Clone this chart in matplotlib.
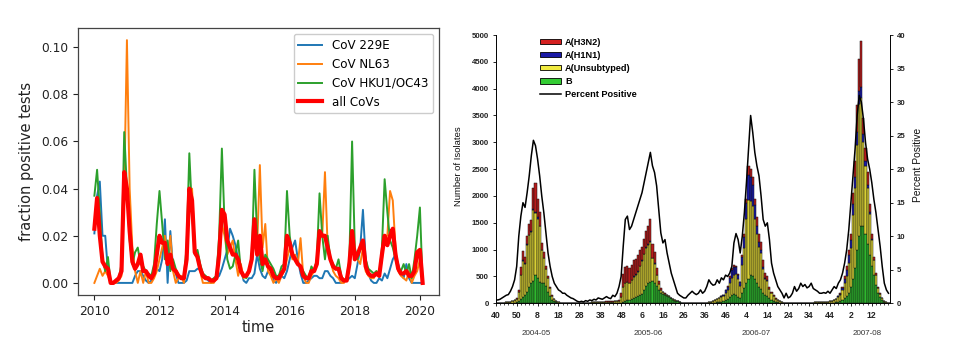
import matplotlib
matplotlib.use('Agg')
import matplotlib.pyplot as plt
import numpy as np
from matplotlib.patches import Patch
from matplotlib.lines import Line2D
from matplotlib.font_manager import FontProperties
import matplotlib.transforms as mtransforms

# ---------------- Left panel data (monthly, Jan 2010 - Feb 2020) ----------------
cov229e = [
    0.021, 0.037, 0.043, 0.020, 0.020, 0.005, 0.000, 0.000, 0.000, 0.000, 0.000, 0.000,
    0.000, 0.000, 0.000, 0.003, 0.005, 0.005, 0.003, 0.001, 0.000, 0.001, 0.003, 0.006,
    0.005, 0.010, 0.027, 0.000, 0.022, 0.006, 0.004, 0.000, 0.000, 0.000, 0.001, 0.005,
    0.005, 0.005, 0.006, 0.006, 0.003, 0.002, 0.001, 0.000, 0.001, 0.002, 0.003, 0.006,
    0.010, 0.014, 0.023, 0.020, 0.016, 0.010, 0.006, 0.001, 0.000, 0.002, 0.002, 0.004,
    0.012, 0.006, 0.003, 0.002, 0.005, 0.006, 0.001, 0.000, 0.002, 0.003, 0.002, 0.005,
    0.010, 0.015, 0.018, 0.010, 0.004, 0.000, 0.000, 0.001, 0.002, 0.003, 0.003, 0.002,
    0.002, 0.005, 0.005, 0.003, 0.002, 0.000, 0.000, 0.000, 0.001, 0.001, 0.002, 0.003,
    0.002, 0.008, 0.015, 0.031, 0.010, 0.004, 0.001, 0.000, 0.000, 0.002, 0.001, 0.004,
    0.002, 0.006, 0.010, 0.012, 0.008, 0.004, 0.002, 0.008, 0.002, 0.000, 0.000, 0.000,
    0.000, 0.000]
covnl63 = [
    0.000, 0.003, 0.006, 0.003, 0.005, 0.003, 0.000, 0.000, 0.000, 0.001, 0.003, 0.040,
    0.103, 0.040, 0.015, 0.005, 0.000, 0.005, 0.000, 0.005, 0.000, 0.000, 0.002, 0.005,
    0.010, 0.015, 0.020, 0.010, 0.020, 0.005, 0.000, 0.002, 0.003, 0.000, 0.010, 0.040,
    0.040, 0.015, 0.010, 0.005, 0.000, 0.000, 0.000, 0.000, 0.000, 0.002, 0.010, 0.025,
    0.020, 0.012, 0.015, 0.018, 0.010, 0.003, 0.008, 0.002, 0.003, 0.005, 0.010, 0.020,
    0.015, 0.050, 0.015, 0.025, 0.005, 0.003, 0.000, 0.002, 0.000, 0.003, 0.005, 0.010,
    0.015, 0.010, 0.012, 0.008, 0.019, 0.003, 0.000, 0.000, 0.003, 0.005, 0.010, 0.020,
    0.020, 0.047, 0.015, 0.010, 0.005, 0.003, 0.002, 0.000, 0.000, 0.002, 0.010, 0.015,
    0.012, 0.010, 0.008, 0.015, 0.005, 0.003, 0.002, 0.002, 0.005, 0.003, 0.010, 0.020,
    0.020, 0.039, 0.035, 0.015, 0.005, 0.003, 0.002, 0.001, 0.005, 0.000, 0.003, 0.005,
    0.010, 0.000]
covhku1 = [
    0.037, 0.048, 0.030, 0.010, 0.005, 0.011, 0.000, 0.000, 0.001, 0.002, 0.008, 0.064,
    0.040, 0.018, 0.008, 0.013, 0.015, 0.008, 0.007, 0.005, 0.004, 0.003, 0.008, 0.025,
    0.039, 0.025, 0.010, 0.018, 0.005, 0.010, 0.006, 0.003, 0.002, 0.003, 0.015, 0.055,
    0.030, 0.012, 0.014, 0.008, 0.004, 0.003, 0.002, 0.001, 0.002, 0.003, 0.020, 0.057,
    0.025, 0.010, 0.006, 0.007, 0.012, 0.018, 0.005, 0.003, 0.002, 0.005, 0.010, 0.048,
    0.020, 0.010, 0.005, 0.012, 0.010, 0.008, 0.006, 0.003, 0.003, 0.007, 0.008, 0.039,
    0.020, 0.012, 0.010, 0.008, 0.007, 0.005, 0.003, 0.002, 0.007, 0.005, 0.010, 0.038,
    0.020, 0.010, 0.020, 0.010, 0.008, 0.006, 0.010, 0.003, 0.001, 0.001, 0.010, 0.060,
    0.015, 0.010, 0.015, 0.018, 0.010, 0.006, 0.005, 0.004, 0.005, 0.003, 0.015, 0.044,
    0.030, 0.018, 0.015, 0.010, 0.006, 0.005, 0.008, 0.004, 0.008, 0.002, 0.010, 0.020,
    0.032, 0.000]
all_covs = [
    0.023, 0.036, 0.020, 0.009, 0.007, 0.006, 0.000, 0.000, 0.001, 0.002, 0.005, 0.047,
    0.040, 0.022, 0.009, 0.006, 0.008, 0.012, 0.005, 0.005, 0.003, 0.002, 0.004, 0.012,
    0.020, 0.017, 0.017, 0.008, 0.012, 0.006, 0.005, 0.003, 0.002, 0.002, 0.010, 0.040,
    0.035, 0.013, 0.011, 0.006, 0.003, 0.002, 0.002, 0.001, 0.001, 0.002, 0.012, 0.031,
    0.029, 0.018, 0.015, 0.012, 0.012, 0.010, 0.005, 0.003, 0.003, 0.005, 0.010, 0.027,
    0.012, 0.020, 0.008, 0.010, 0.007, 0.006, 0.003, 0.002, 0.002, 0.004, 0.006, 0.020,
    0.017, 0.012, 0.010, 0.008, 0.007, 0.003, 0.002, 0.002, 0.005, 0.005, 0.008, 0.022,
    0.020, 0.020, 0.015, 0.010, 0.007, 0.006, 0.006, 0.002, 0.001, 0.001, 0.008, 0.022,
    0.010, 0.012, 0.015, 0.018, 0.007, 0.004, 0.003, 0.003, 0.004, 0.003, 0.012, 0.020,
    0.016, 0.020, 0.023, 0.012, 0.006, 0.004, 0.004, 0.005, 0.003, 0.003, 0.005, 0.013,
    0.014, 0.000]
start_year = 2010
left_xticks = [2010, 2012, 2014, 2016, 2018, 2020]

# ---------------- Right panel data (weekly, week 40 2004 - 2008) ----------------
flu_b = [
    0, 0, 0, 0, 0, 5, 5, 10, 10, 15,
    20, 40, 80, 120, 150, 220, 300, 380, 420, 530,
    470, 400, 380, 380, 320, 220, 130, 70, 40, 20,
    10, 5, 5, 0, 0, 0, 0, 0, 0, 0,
    0, 0, 0, 5, 5, 5, 5, 5, 5, 5,
    5, 5, 5, 5, 5, 5, 5, 5, 5, 5,
    10, 30, 50, 60, 60, 80, 100, 110, 130, 150,
    180, 250, 330, 370, 400, 420, 380, 330, 250, 200,
    180, 160, 140, 110, 90, 70, 50, 35, 20, 10,
    5, 5, 0, 0, 0, 0, 0, 0, 0, 0,
    0, 0, 0, 0, 10, 15, 20, 25, 30, 40,
    60, 80, 120, 150, 170, 150, 120, 100, 200, 280,
    380, 450, 530, 500, 450, 380, 300, 260, 200, 150,
    130, 90, 70, 50, 30, 20, 15, 10, 5, 5,
    0, 0, 0, 0, 0, 0, 0, 0, 0, 0,
    0, 5, 5, 5, 5, 5, 5, 5, 5, 5,
    5, 10, 15, 20, 30, 40, 60, 90, 130, 200,
    300, 450, 650, 1000, 1250, 1450, 1450, 1300, 1100, 900,
    700, 520, 350, 200, 120, 60, 30, 15, 8]
flu_a_unsub = [
    5, 5, 10, 10, 15, 15, 20, 20, 30, 40,
    65, 180, 440, 670, 590, 870, 965, 950, 1310, 1150,
    1110, 1035, 610, 460, 315, 245, 150, 70, 40, 20,
    10, 5, 0, 5, 5, 0, 0, 5, 0, 5,
    5, 5, 10, 5, 5, 10, 15, 15, 15, 15,
    15, 20, 20, 20, 20, 25, 25, 30, 30, 40,
    110, 270, 320, 330, 310, 350, 390, 420, 460, 540,
    610, 660, 710, 720, 750, 420, 360, 200, 110, 50,
    25, 20, 20, 20, 10, 10, 10, 5, 5, 0,
    0, 0, 5, 0, 5, 5, 5, 10, 10, 10,
    10, 15, 20, 30, 30, 45, 60, 75, 90, 90,
    140, 170, 260, 320, 360, 400, 330, 230, 510, 760,
    1190, 1480, 1370, 1320, 1130, 920, 750, 680, 440, 310,
    285, 170, 120, 80, 50, 40, 25, 10, 5, 0,
    5, 0, 5, 0, 5, 5, 5, 5, 10, 10,
    10, 10, 10, 15, 15, 15, 20, 20, 25, 25,
    35, 40, 55, 60, 90, 110, 180, 280, 370, 550,
    730, 1200, 1500, 1950, 2460, 2380, 1550, 1250, 1040, 760,
    480, 280, 170, 90, 60, 30, 10, 5, 2]
flu_h1n1 = [
    0, 0, 0, 0, 0, 0, 0, 0, 0, 0,
    0, 0, 10, 10, 10, 10, 15, 20, 20, 20,
    20, 15, 10, 10, 5, 5, 0, 0, 0, 0,
    0, 0, 0, 0, 0, 0, 0, 0, 0, 0,
    0, 0, 0, 0, 0, 0, 0, 0, 0, 0,
    0, 0, 0, 0, 0, 0, 0, 0, 0, 0,
    0, 0, 10, 10, 10, 10, 10, 10, 10, 10,
    10, 10, 10, 10, 10, 10, 10, 0, 0, 0,
    0, 0, 0, 0, 0, 0, 0, 0, 0, 0,
    0, 0, 0, 0, 0, 0, 0, 0, 0, 0,
    0, 0, 0, 0, 0, 0, 0, 0, 10, 20,
    40, 60, 100, 150, 150, 120, 80, 60, 150, 200,
    300, 470, 450, 380, 250, 150, 100, 60, 40, 20,
    15, 10, 0, 0, 0, 0, 0, 0, 0, 0,
    0, 0, 0, 0, 0, 0, 0, 0, 0, 0,
    0, 0, 0, 0, 0, 0, 0, 0, 0, 0,
    0, 0, 0, 0, 10, 20, 40, 80, 120, 150,
    150, 200, 200, 250, 250, 200, 150, 100, 60, 40,
    20, 10, 0, 0, 0, 0, 0, 0, 0]
flu_h3n2 = [
    0, 0, 0, 0, 0, 0, 0, 0, 0, 5,
    15, 30, 150, 180, 120, 150, 200, 200, 400, 550,
    350, 250, 120, 100, 60, 30, 20, 10, 0, 0,
    0, 0, 0, 0, 0, 0, 0, 0, 0, 0,
    0, 0, 0, 0, 0, 0, 0, 0, 0, 5,
    5, 5, 5, 10, 10, 10, 10, 15, 15, 15,
    80, 250, 300, 300, 270, 280, 300, 280, 300, 300,
    250, 280, 300, 350, 420, 250, 200, 120, 60, 30,
    15, 10, 0, 0, 0, 0, 0, 0, 0, 0,
    0, 0, 0, 0, 0, 0, 0, 0, 0, 0,
    0, 0, 0, 0, 0, 0, 0, 0, 0, 0,
    10, 10, 20, 30, 40, 30, 20, 10, 40, 60,
    80, 150, 150, 150, 120, 150, 150, 150, 120, 80,
    70, 40, 30, 20, 10, 0, 0, 0, 0, 0,
    0, 0, 0, 0, 0, 0, 0, 0, 0, 0,
    0, 0, 0, 0, 0, 0, 0, 0, 0, 0,
    0, 0, 0, 0, 0, 20, 30, 50, 80, 100,
    120, 200, 300, 500, 600, 850, 300, 250, 250, 150,
    100, 60, 40, 20, 10, 0, 0, 0, 0]
percent_pos = [
    0.5, 0.5, 0.6, 0.8, 1.0, 1.2, 1.3, 1.8, 2.5, 3.5,
    5.5, 10.0, 13.0, 15.0, 14.3, 16.5, 19.0, 22.0, 24.3, 23.5,
    21.5, 19.0, 16.0, 13.5, 10.5, 7.5, 5.5, 4.0, 3.0, 2.5,
    2.0, 1.8, 1.5, 1.5, 1.2, 1.0, 0.8, 0.7, 0.5, 0.3,
    0.2, 0.3, 0.2, 0.4, 0.3, 0.5, 0.4, 0.6, 0.5, 0.8,
    0.7, 0.6, 0.8, 1.0, 0.8, 0.7, 1.2, 1.0, 1.5, 2.5,
    4.0, 8.5, 12.5, 13.0, 11.0, 11.5, 12.5, 13.5, 14.5, 15.5,
    16.5, 18.0, 19.5, 21.0, 22.5, 20.5, 19.5, 17.5, 14.0, 10.5,
    9.0, 9.5, 7.5, 6.0, 4.5, 3.5, 2.5, 1.5, 1.2, 1.0,
    0.8, 0.8, 1.2, 1.5, 1.8, 1.5, 1.3, 1.5, 2.0, 1.5,
    1.8, 2.5, 3.5, 3.0, 2.7, 2.8, 3.5, 3.0, 3.8, 3.5,
    4.2, 4.0, 4.5, 5.5, 9.0, 10.4, 9.5, 7.5, 10.0, 13.5,
    18.0, 23.0, 28.0, 25.5, 22.5, 20.5, 19.0, 16.0, 12.5, 11.5,
    12.0, 9.5, 6.0, 4.5, 3.5, 2.5, 2.0, 1.5, 0.8, 1.5,
    0.8, 1.0, 1.5, 2.5, 1.8, 2.2, 3.0, 2.5, 2.8, 2.3,
    2.5, 3.0, 2.2, 2.0, 1.8, 1.5, 1.5, 1.6, 1.5, 1.8,
    1.5, 2.0, 2.5, 2.2, 3.0, 3.5, 4.5, 6.0, 8.0, 11.0,
    15.0, 19.0, 23.0, 28.0, 31.0, 30.0, 27.5, 24.0, 21.5, 20.0,
    18.0, 15.5, 13.5, 11.0, 8.5, 5.5, 3.0, 2.0, 1.5]
week_tick_labels = ['40', '50', '8', '18', '28', '38', '48', '6', '16', '26',
                    '36', '46', '4', '14', '24', '34', '44', '2', '12']
season_labels = ['2004-05', '2005-06', '2006-07', '2007-08']
season_week_index = [19.3, 73.0, 124.6, 178.0]

# ---------------- Figure ----------------
fig = plt.figure(figsize=(9.59, 3.5), dpi=100)

# Left panel
ax1 = fig.add_axes([0.0813, 0.157, 0.3765, 0.763])
t = start_year + np.arange(len(all_covs)) / 12.0
ax1.plot(t, cov229e, color='#1f77b4', lw=1.4, label='CoV 229E')
ax1.plot(t, covnl63, color='#ff7f0e', lw=1.4, label='CoV NL63')
ax1.plot(t, covhku1, color='#2ca02c', lw=1.4, label='CoV HKU1/OC43')
ax1.plot(t, all_covs, color='#ff0000', lw=3.0, label='all CoVs')
ax1.set_xticks(left_xticks)
ax1.set_yticks([0.0, 0.02, 0.04, 0.06, 0.08, 0.10])
ax1.yaxis.set_major_formatter(matplotlib.ticker.FormatStrFormatter('%.2f'))
ax1.tick_params(labelsize=8.8, colors='#222222', width=0.8)
ax1.set_xlabel('time', fontsize=10.5, labelpad=1.5, color='#222222')
ax1.set_ylabel('fraction positive tests', fontsize=10.5, color='#222222')
ax1.yaxis.set_label_coords(-0.123, 0.5)
for sp in ax1.spines.values():
    sp.set_color('#444444')
    sp.set_linewidth(0.9)
ax1.legend(loc='upper right', fontsize=8.6, handlelength=2.0, framealpha=1.0)

# Right panel
ax2 = fig.add_axes([0.517, 0.1334, 0.411, 0.7666])
idx = np.arange(len(percent_pos))
b = np.array(flu_b, dtype=float)
y = np.array(flu_a_unsub, dtype=float)
h1 = np.array(flu_h1n1, dtype=float)
h3 = np.array(flu_h3n2, dtype=float)
ek = dict(width=1.0, edgecolor='#111111', linewidth=0.35)
ax2.bar(idx, b, color='#2eb82e', **ek)
ax2.bar(idx, y, bottom=b, color='#d8cf34', **ek)
ax2.bar(idx, h1, bottom=b + y, color='#1a1aa6', **ek)
ax2.bar(idx, h3, bottom=b + y + h1, color='#b81c1c', **ek)
ax2.set_xlim(0, 188.7)
ax2.set_ylim(0, 5000)
ax2.set_yticks(np.arange(0, 5001, 500))
ax2.set_xticks(np.arange(0, 181, 10))
ax2.set_xticklabels(week_tick_labels)
ax2.set_xticks(np.arange(0, 189, 2), minor=True)

ax3 = ax2.twinx()
ax3.plot(idx, percent_pos, color='black', lw=1.1)
ax3.set_ylim(0, 40)
ax3.set_yticks(np.arange(0, 41, 5))

tickfont = FontProperties(family='Liberation Sans', weight='bold', size=5.6)
for axx in (ax2, ax3):
    axx.spines['top'].set_visible(False)
    for lab in axx.get_yticklabels():
        lab.set_fontproperties(tickfont)
        lab.set_color('#222222')
ax2.spines['right'].set_visible(False)
ax3.spines['left'].set_visible(False)
ax3.spines['bottom'].set_visible(False)
for lab in ax2.get_xticklabels():
    lab.set_fontproperties(FontProperties(family='Liberation Sans', weight='bold', size=6.2))
    lab.set_color('#222222')
ax2.tick_params(axis='y', length=2.5, width=0.6, pad=2.5)
ax3.tick_params(axis='y', length=2.5, width=0.6, pad=2.5)
ax2.tick_params(axis='x', which='major', length=2.5, width=0.6, pad=3)
ax2.tick_params(axis='x', which='minor', length=1.5, width=0.5)
for sp in ('left', 'bottom'):
    ax2.spines[sp].set_linewidth(0.7)
ax3.spines['right'].set_linewidth(0.7)

lblfont = FontProperties(family='Liberation Sans', size=6.8)
ax2.set_ylabel('Number of Isolates', fontproperties=lblfont, color='#111111')
ax2.yaxis.set_label_coords(-0.083, 0.51)
ax3.set_ylabel('Percent Positive', fontproperties=FontProperties(family='Liberation Sans', size=7.4), color='#111111')
ax3.yaxis.set_label_coords(1.058, 0.515)

trans = mtransforms.blended_transform_factory(ax2.transData, ax2.transAxes)
for lab, xpos in zip(season_labels, season_week_index):
    ax2.text(xpos, -0.111, lab, transform=trans, ha='center', va='center',
             fontproperties=FontProperties(family='Liberation Sans', size=5.8), color='#333333')

handles = [Patch(facecolor='#d42020', edgecolor='black', linewidth=0.6),
           Patch(facecolor='#1a1aa6', edgecolor='black', linewidth=0.6),
           Patch(facecolor='#f0ea40', edgecolor='black', linewidth=0.6),
           Patch(facecolor='#33cc33', edgecolor='black', linewidth=0.6),
           Line2D([0], [0], color='black', lw=1.1)]
labels = ['A(H3N2)', 'A(H1N1)', 'A(Unsubtyped)', 'B', 'Percent Positive']
ax3.legend(handles, labels, loc='upper left', bbox_to_anchor=(0.112, 0.99),
           frameon=False, prop=FontProperties(family='Liberation Sans', weight='bold', size=6.6),
           handlelength=2.3, handleheight=0.55, handletextpad=0.45, labelspacing=0.45,
           borderpad=0, borderaxespad=0)

fig.savefig('out.png', dpi=100, facecolor='white')
